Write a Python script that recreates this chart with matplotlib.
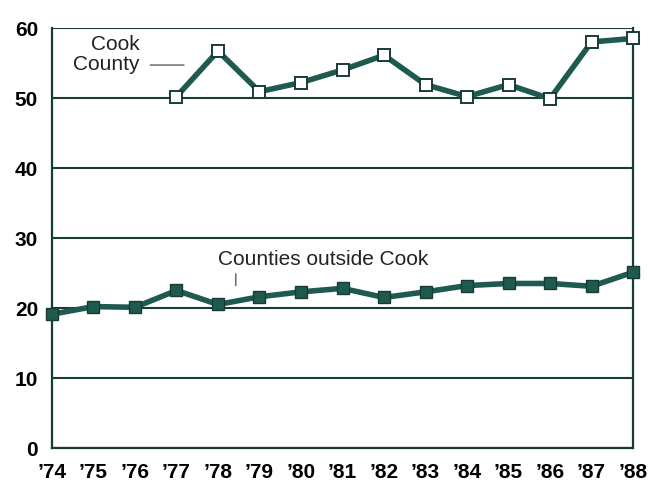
import numpy as np
import matplotlib
matplotlib.use("Agg")
import matplotlib.pyplot as plt

# Years and series
years = np.arange(1974, 1989)
year_labels = ["\u2019" + str(y)[2:] for y in years]

cook_years = np.arange(1977, 1989)
cook = [50.2, 56.7, 50.9, 52.2, 54.0, 56.1, 51.9, 50.2, 51.9, 49.9, 58.0, 58.5]

outside = [19.1, 20.2, 20.1, 22.5, 20.5, 21.6, 22.3, 22.8, 21.5, 22.3,
           23.2, 23.5, 23.5, 23.1, 25.1]

y_ticks = [0, 10, 20, 30, 40, 50, 60]

line_col = "#1f5a4f"
grid_col = "#173c37"

plt.rcParams["font.family"] = ["Liberation Sans", "DejaVu Sans"]

fig = plt.figure(figsize=(6.48, 4.89), dpi=100)
ax = fig.add_axes([0.0802, 0.0818, 0.8967, 0.859])

# horizontal rules
for v in y_ticks:
    ax.axhline(v, color=grid_col, lw=1.5, zorder=1)

ax.plot(years, outside, color=line_col, lw=4, marker="s", markersize=8.5,
        markerfacecolor=line_col, markeredgecolor=grid_col, markeredgewidth=1,
        zorder=3, clip_on=False)
ax.plot(cook_years, cook, color=line_col, lw=4, marker="s", markersize=8.5,
        markerfacecolor="white", markeredgecolor=grid_col, markeredgewidth=1.4,
        zorder=3, clip_on=False)

ax.set_xlim(1974, 1988)
ax.set_ylim(0, 60)
ax.set_xticks(years)
ax.set_xticklabels(year_labels, fontsize=15, fontweight="bold")
ax.set_yticks(y_ticks)
ax.set_yticklabels([str(v) for v in y_ticks], fontsize=15, fontweight="bold")
ax.tick_params(length=0)
ax.tick_params(axis="x", pad=10)
ax.tick_params(axis="y", pad=10)

for side in ["left", "right", "bottom"]:
    ax.spines[side].set_color(grid_col)
    ax.spines[side].set_linewidth(1.6)
ax.spines["top"].set_visible(False)

# series labels with leader lines
ax.text(1976.12, 56.3, "Cook\nCounty", ha="right", va="center", fontsize=15,
        multialignment="right", linespacing=1.05, color="#222222")
ax.annotate("", xy=(1977.25, 54.7), xytext=(1976.3, 54.7),
            arrowprops=dict(arrowstyle="-", lw=0.8, color="#333333"))

ax.text(1978.0, 27.1, "Counties outside Cook", ha="left", va="center",
        fontsize=15, color="#222222")
ax.annotate("", xy=(1978.43, 22.8), xytext=(1978.43, 25.3),
            arrowprops=dict(arrowstyle="-", lw=0.8, color="#333333"))

fig.savefig("out.png", dpi=100)
